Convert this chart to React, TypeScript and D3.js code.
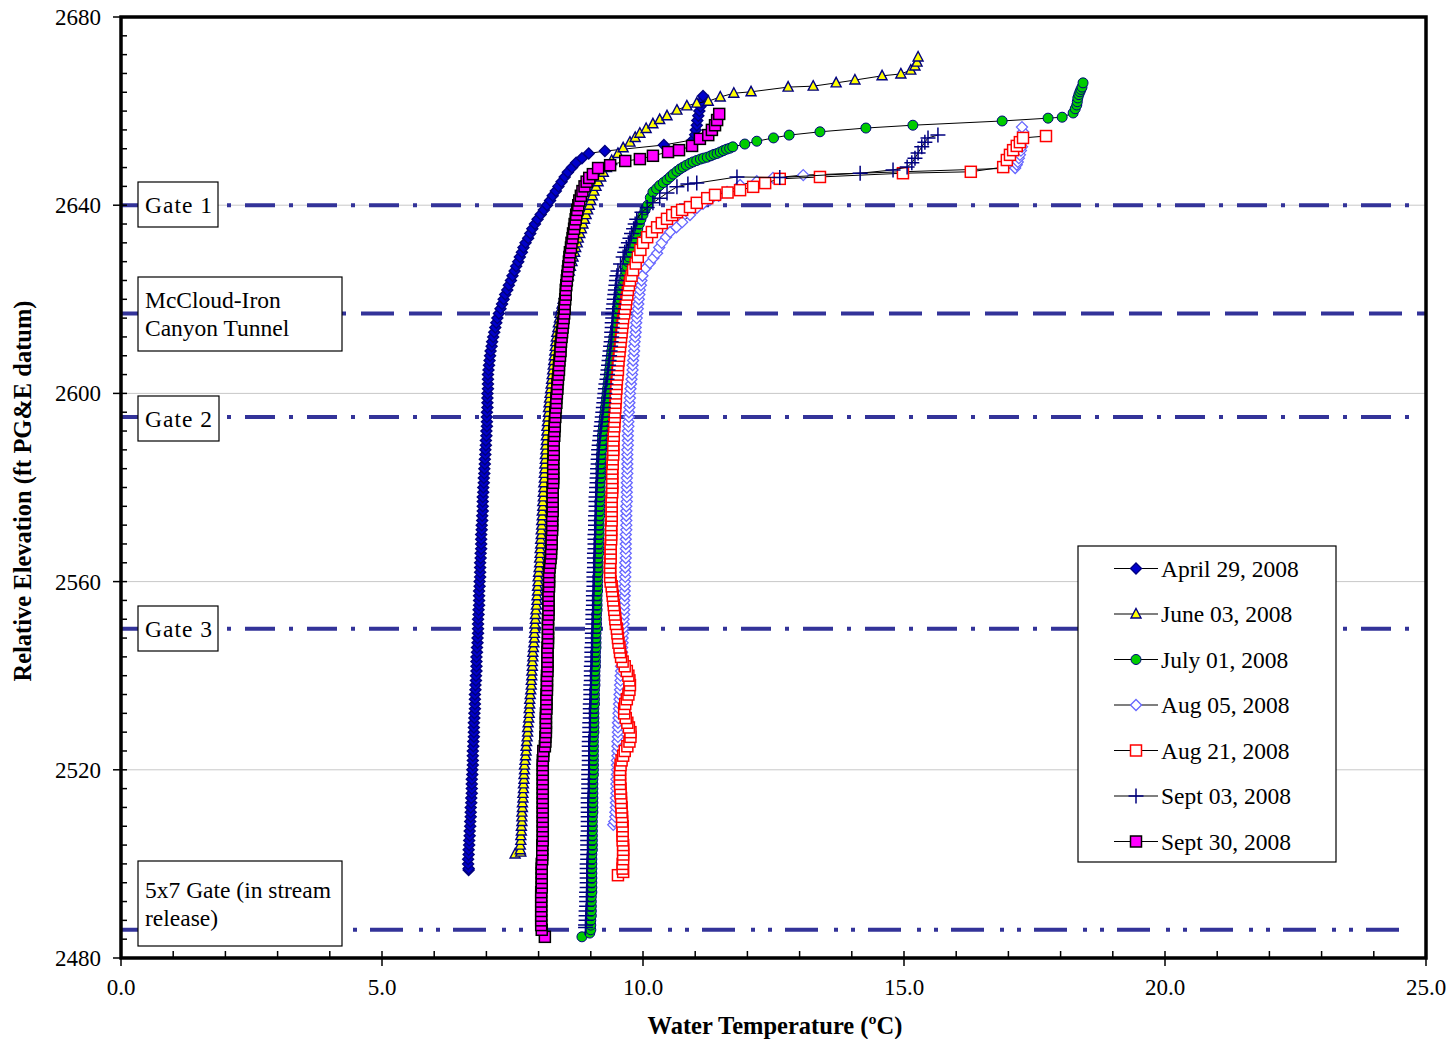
import React from 'react';
import * as d3 from 'd3';

type Pt = [number, number]; // [water temperature degC, elevation ft]

// profiles, bottom to top
const april29: Pt[] = [
  [6.66,2498.7],[6.66,2499],[6.65,2500],[6.65,2501],[6.66,2502],[6.66,2503],[6.67,2504],[6.67,2505],[6.68,2506],[6.68,2507],
  [6.69,2508],[6.69,2509],[6.70,2510],[6.70,2511],[6.70,2512],[6.71,2513],[6.71,2514],[6.72,2515],[6.72,2516],[6.72,2517],
  [6.72,2518],[6.73,2519],[6.73,2520],[6.74,2521],[6.74,2522],[6.74,2523],[6.74,2524],[6.75,2525],[6.75,2526],[6.76,2527],
  [6.76,2528],[6.76,2529],[6.76,2530],[6.77,2531],[6.77,2532],[6.78,2533],[6.78,2534],[6.78,2535],[6.78,2536],[6.79,2537],
  [6.79,2538],[6.80,2539],[6.80,2540],[6.81,2541],[6.81,2542],[6.81,2543],[6.81,2544],[6.82,2545],[6.82,2546],[6.83,2547],
  [6.83,2548],[6.84,2549],[6.84,2550],[6.84,2551],[6.84,2552],[6.85,2553],[6.85,2554],[6.86,2555],[6.86,2556],[6.86,2557],
  [6.86,2558],[6.87,2559],[6.87,2560],[6.88,2561],[6.88,2562],[6.88,2563],[6.88,2564],[6.89,2565],[6.89,2566],[6.90,2567],
  [6.90,2568],[6.90,2569],[6.90,2570],[6.91,2571],[6.91,2572],[6.92,2573],[6.92,2574],[6.93,2575],[6.93,2576],[6.93,2577],
  [6.93,2578],[6.94,2579],[6.94,2580],[6.95,2581],[6.95,2582],[6.96,2583],[6.96,2584],[6.97,2585],[6.97,2586],[6.98,2587],
  [6.98,2588],[6.99,2589],[6.99,2590],[7.00,2591],[7.00,2592],[7.01,2593],[7.01,2594],[7.01,2595],[7.01,2596],[7.02,2597],
  [7.02,2598],[7.02,2599],[7.02,2600],[7.03,2601],[7.03,2602],[7.03,2603],[7.03,2604],[7.04,2605],[7.05,2606],[7.06,2607],
  [7.07,2608],[7.08,2609],[7.10,2610],[7.11,2611],[7.13,2612],[7.15,2613],[7.17,2614],[7.19,2615],[7.21,2616],[7.24,2617],
  [7.27,2618],[7.30,2619],[7.33,2620],[7.36,2621],[7.40,2622],[7.43,2623],[7.47,2624],[7.50,2625],[7.54,2626],[7.57,2627],
  [7.61,2628],[7.64,2629],[7.68,2630],[7.71,2631],[7.75,2632],[7.80,2633],[7.84,2634],[7.88,2635],[7.93,2636],[7.98,2637],
  [8.04,2638],[8.10,2639],[8.16,2640],[8.22,2641],[8.27,2642],[8.33,2643],[8.38,2644],[8.44,2645],[8.50,2646],[8.56,2647],
  [8.64,2648],[8.72,2649],[8.83,2650],[8.96,2651],[9.27,2651.5],[10.40,2652.8],[10.96,2653.9],[11.00,2655],[11.01,2656],
  [11.03,2657],[11.04,2658],[11.06,2659],[11.08,2660],[11.10,2661],[11.12,2662],[11.15,2663.2],
];

const june03: Pt[] = [
  [7.55,2502.1],[7.66,2502.5],[7.65,2503],[7.65,2504],[7.66,2505],[7.66,2506],[7.67,2507],[7.67,2508],[7.68,2509],[7.68,2510],
  [7.68,2511],[7.69,2512],[7.69,2513],[7.70,2514],[7.70,2515],[7.71,2516],[7.71,2517],[7.72,2518],[7.72,2519],[7.73,2520],
  [7.73,2521],[7.74,2522],[7.75,2523],[7.76,2524],[7.76,2525],[7.77,2526],[7.78,2527],[7.79,2528],[7.79,2529],[7.80,2530],
  [7.81,2531],[7.82,2532],[7.82,2533],[7.83,2534],[7.83,2535],[7.84,2536],[7.85,2537],[7.86,2538],[7.86,2539],[7.87,2540],
  [7.87,2541],[7.88,2542],[7.88,2543],[7.89,2544],[7.89,2545],[7.90,2546],[7.91,2547],[7.92,2548],[7.92,2549],[7.93,2550],
  [7.93,2551],[7.94,2552],[7.94,2553],[7.95,2554],[7.96,2555],[7.97,2556],[7.97,2557],[7.98,2558],[7.98,2559],[7.99,2560],
  [7.99,2561],[8.00,2562],[8.01,2563],[8.02,2564],[8.02,2565],[8.03,2566],[8.03,2567],[8.04,2568],[8.04,2569],[8.05,2570],
  [8.05,2571],[8.06,2572],[8.06,2573],[8.07,2574],[8.07,2575],[8.08,2576],[8.08,2577],[8.09,2578],[8.09,2579],[8.10,2580],
  [8.10,2581],[8.11,2582],[8.11,2583],[8.12,2584],[8.12,2585],[8.13,2586],[8.13,2587],[8.14,2588],[8.14,2589],[8.15,2590],
  [8.15,2591],[8.16,2592],[8.16,2593],[8.17,2594],[8.18,2595],[8.19,2596],[8.19,2597],[8.20,2598],[8.21,2599],[8.22,2600],
  [8.23,2601],[8.24,2602],[8.25,2603],[8.26,2604],[8.27,2605],[8.28,2606],[8.29,2607],[8.30,2608],[8.31,2609],[8.32,2610],
  [8.33,2611],[8.34,2612],[8.35,2613],[8.37,2614],[8.38,2615],[8.40,2616],[8.41,2617],[8.43,2618],[8.45,2619],[8.47,2620],
  [8.49,2621],[8.51,2622],[8.53,2623],[8.55,2624],[8.57,2625],[8.59,2626],[8.61,2627],[8.64,2628],[8.66,2629],[8.69,2630],
  [8.71,2631],[8.74,2632],[8.76,2633],[8.79,2634],[8.82,2635],[8.85,2636],[8.88,2637],[8.91,2638],[8.94,2639],[8.97,2640],
  [9.00,2641],[9.03,2642],[9.06,2643],[9.10,2644],[9.14,2645],[9.19,2646],[9.24,2647],[9.30,2648],[9.40,2649.5],[9.52,2651],
  [9.62,2652.2],[9.75,2653.4],[9.85,2654.4],[9.94,2655.3],[10.06,2656.3],[10.19,2657.3],[10.32,2658.2],[10.46,2659],
  [10.65,2660.2],[10.84,2661.1],[11.03,2661.7],[11.25,2662.1],[11.48,2663],[11.74,2663.8],[12.07,2664.1],[12.78,2665.1],
  [13.26,2665.3],[13.70,2666.0],[14.06,2666.6],[14.58,2667.5],[14.94,2667.9],[15.13,2668.7],[15.21,2669.6],[15.25,2670.4],
  [15.27,2671.5],
];

const july01: Pt[] = [
  [8.83,2484.5],[8.98,2485.3],[9.00,2486],[9.00,2487],[9.00,2488],[9.01,2489],[9.01,2490],[9.01,2491],[9.01,2492],[9.01,2493],
  [9.02,2494],[9.02,2495],[9.02,2496],[9.02,2497],[9.02,2498],[9.02,2499],[9.02,2500],[9.02,2501],[9.02,2502],[9.03,2503],
  [9.03,2504],[9.03,2505],[9.03,2506],[9.03,2507],[9.03,2508],[9.03,2509],[9.03,2510],[9.04,2511],[9.04,2512],[9.04,2513],
  [9.04,2514],[9.04,2515],[9.04,2516],[9.04,2517],[9.04,2518],[9.05,2519],[9.05,2520],[9.05,2521],[9.05,2522],[9.05,2523],
  [9.05,2524],[9.05,2525],[9.05,2526],[9.05,2527],[9.06,2528],[9.06,2529],[9.06,2530],[9.06,2531],[9.06,2532],[9.06,2533],
  [9.07,2534],[9.07,2535],[9.07,2536],[9.07,2537],[9.08,2538],[9.08,2539],[9.08,2540],[9.08,2541],[9.09,2542],[9.09,2543],
  [9.09,2544],[9.09,2545],[9.10,2546],[9.10,2547],[9.10,2548],[9.10,2549],[9.11,2550],[9.11,2551],[9.11,2552],[9.11,2553],
  [9.12,2554],[9.12,2555],[9.12,2556],[9.12,2557],[9.13,2558],[9.13,2559],[9.13,2560],[9.13,2561],[9.14,2562],[9.14,2563],
  [9.14,2564],[9.14,2565],[9.15,2566],[9.15,2567],[9.15,2568],[9.15,2569],[9.16,2570],[9.16,2571],[9.16,2572],[9.16,2573],
  [9.17,2574],[9.17,2575],[9.17,2576],[9.17,2577],[9.18,2578],[9.18,2579],[9.18,2580],[9.18,2581],[9.19,2582],[9.19,2583],
  [9.19,2584],[9.19,2585],[9.20,2586],[9.20,2587],[9.21,2588],[9.21,2589],[9.22,2590],[9.22,2591],[9.23,2592],[9.24,2593],
  [9.25,2594],[9.26,2595],[9.27,2596],[9.28,2597],[9.29,2598],[9.30,2599],[9.31,2600],[9.32,2601],[9.33,2602],[9.34,2603],
  [9.35,2604],[9.36,2605],[9.37,2606],[9.38,2607],[9.39,2608],[9.40,2609],[9.41,2610],[9.43,2611],[9.44,2612],[9.46,2613],
  [9.47,2614],[9.49,2615],[9.50,2616],[9.52,2617],[9.53,2618],[9.55,2619],[9.56,2620],[9.58,2621],[9.59,2622],[9.61,2623],
  [9.63,2624],[9.65,2625],[9.67,2626],[9.69,2627],[9.71,2628],[9.73,2629],[9.76,2630],[9.78,2631],[9.81,2632],[9.84,2633],
  [9.87,2634],[9.90,2635],[9.93,2636],[9.96,2637],[10.00,2638],[10.04,2639],[10.09,2640],[10.14,2641.6],[10.19,2642.8],
  [10.26,2643.5],[10.32,2644.2],[10.39,2644.8],[10.46,2645.4],[10.52,2646],[10.58,2646.6],[10.65,2647.2],[10.71,2647.7],
  [10.77,2648.1],[10.83,2648.5],[10.90,2648.9],[10.96,2649.2],[11.03,2649.5],[11.10,2649.8],[11.16,2650],[11.23,2650.2],
  [11.30,2650.5],[11.36,2650.8],[11.42,2651],[11.48,2651.3],[11.54,2651.6],[11.60,2651.9],[11.66,2652.1],[11.72,2652.4],
  [11.95,2653.0],[12.18,2653.6],[12.50,2654.3],[12.80,2654.9],[13.39,2655.6],[14.27,2656.4],[15.17,2657.0],[16.88,2657.9],
  [17.76,2658.5],[18.03,2658.7],[18.24,2659.6],[18.28,2660.5],[18.31,2661.3],[18.32,2662],[18.33,2662.8],[18.35,2663.5],
  [18.37,2664.1],[18.39,2664.6],[18.41,2665.1],[18.43,2666.0],
];

const aug05: Pt[] = [
  [9.43,2508.3],[9.45,2509],[9.47,2510],[9.47,2511],[9.48,2512],[9.48,2513],[9.48,2514],[9.49,2515],[9.49,2516],[9.49,2517],
  [9.49,2518],[9.50,2519],[9.50,2520],[9.50,2521],[9.50,2522],[9.51,2523],[9.51,2524],[9.51,2525],[9.51,2526],[9.52,2527],
  [9.52,2528],[9.52,2529],[9.52,2530],[9.53,2531],[9.53,2532],[9.54,2533],[9.54,2534],[9.55,2535],[9.55,2536],[9.56,2537],
  [9.56,2538],[9.57,2539],[9.57,2540],[9.58,2541],[9.58,2542],[9.59,2543],[9.59,2544],[9.60,2545],[9.60,2546],[9.61,2547],
  [9.61,2548],[9.62,2549],[9.62,2550],[9.63,2551],[9.63,2552],[9.64,2553],[9.64,2554],[9.64,2555],[9.64,2556],[9.65,2557],
  [9.65,2558],[9.65,2559],[9.65,2560],[9.66,2561],[9.66,2562],[9.66,2563],[9.66,2564],[9.67,2565],[9.67,2566],[9.67,2567],
  [9.67,2568],[9.67,2569],[9.67,2570],[9.68,2571],[9.68,2572],[9.68,2573],[9.68,2574],[9.68,2575],[9.68,2576],[9.69,2577],
  [9.69,2578],[9.69,2579],[9.69,2580],[9.69,2581],[9.69,2582],[9.70,2583],[9.70,2584],[9.70,2585],[9.70,2586],[9.70,2587],
  [9.70,2588],[9.71,2589],[9.71,2590],[9.71,2591],[9.71,2592],[9.72,2593],[9.72,2594],[9.73,2595],[9.73,2596],[9.74,2597],
  [9.74,2598],[9.75,2599],[9.75,2600],[9.76,2601],[9.77,2602],[9.78,2603],[9.79,2604],[9.80,2605],[9.80,2606],[9.81,2607],
  [9.82,2608],[9.83,2609],[9.83,2610],[9.84,2611],[9.85,2612],[9.86,2613],[9.86,2614],[9.87,2615],[9.88,2616],[9.89,2617],
  [9.90,2618],[9.91,2619],[9.92,2620],[9.93,2621],[9.94,2622],[9.96,2623],[9.97,2624],[9.99,2625],[10.05,2626.6],
  [10.13,2627.7],[10.20,2628.8],[10.27,2629.8],[10.31,2631],[10.36,2632],[10.44,2633.2],[10.52,2634.3],[10.64,2635.3],
  [10.75,2636.4],[10.90,2637.9],[11.03,2639.4],[11.15,2640.3],[11.28,2641.1],[11.45,2642],[11.61,2642.8],[11.86,2644.3],
  [12.18,2645.1],[12.49,2645.8],[13.07,2646.4],[17.13,2647.9],[17.16,2648.6],[17.18,2649.2],[17.20,2650],[17.22,2650.7],
  [17.24,2651.6],[17.26,2652.4],[17.27,2653.4],[17.28,2654.3],[17.28,2655.6],[17.26,2656.6],
];

const aug21: Pt[] = [
  [9.52,2497.6],[9.62,2498.3],[9.61,2499],[9.61,2500],[9.62,2501],[9.62,2502],[9.62,2503],[9.62,2504],[9.61,2505],[9.61,2506],
  [9.61,2507],[9.61,2508],[9.60,2509],[9.60,2510],[9.59,2511],[9.59,2512],[9.58,2513],[9.58,2514],[9.57,2515],[9.57,2516],
  [9.56,2517],[9.56,2518],[9.56,2519],[9.56,2520],[9.57,2521],[9.59,2522],[9.62,2523],[9.65,2524],[9.70,2525],[9.74,2526],
  [9.76,2527],[9.76,2528],[9.73,2529],[9.70,2530],[9.67,2531],[9.64,2532],[9.64,2533],[9.66,2534],[9.69,2535],[9.72,2536],
  [9.74,2537],[9.75,2538],[9.74,2539],[9.72,2540],[9.69,2541],[9.65,2542],[9.61,2543],[9.58,2544],[9.56,2545],[9.55,2546],
  [9.53,2547],[9.52,2548],[9.51,2549],[9.50,2550],[9.48,2551],[9.47,2552],[9.46,2553],[9.45,2554],[9.44,2555],[9.43,2556],
  [9.42,2557],[9.41,2558],[9.40,2559],[9.38,2560],[9.37,2561],[9.37,2562],[9.37,2563],[9.37,2564],[9.38,2565],[9.38,2566],
  [9.38,2567],[9.38,2568],[9.39,2569],[9.39,2570],[9.39,2571],[9.39,2572],[9.40,2573],[9.40,2574],[9.40,2575],[9.40,2576],
  [9.40,2577],[9.40,2578],[9.41,2579],[9.41,2580],[9.41,2581],[9.41,2582],[9.41,2583],[9.41,2584],[9.42,2585],[9.42,2586],
  [9.43,2587],[9.43,2588],[9.43,2589],[9.43,2590],[9.44,2591],[9.44,2592],[9.45,2593],[9.45,2594],[9.46,2595],[9.46,2596],
  [9.47,2597],[9.47,2598],[9.48,2599],[9.48,2600],[9.49,2601],[9.49,2602],[9.50,2603],[9.51,2604],[9.52,2605],[9.52,2606],
  [9.53,2607],[9.54,2608],[9.55,2609],[9.56,2610],[9.57,2611],[9.58,2612],[9.59,2613],[9.60,2614],[9.61,2615],[9.62,2616],
  [9.64,2617],[9.65,2618],[9.67,2619],[9.68,2620],[9.70,2621],[9.71,2622],[9.73,2623],[9.75,2624],[9.78,2625],[9.81,2626.2],
  [9.86,2627.6],[9.90,2629],[9.95,2630.5],[10.00,2632],[10.08,2633.2],[10.17,2634.3],[10.27,2635.3],[10.36,2636.2],
  [10.46,2637.1],[10.56,2637.9],[10.65,2638.5],[10.75,2639],[10.90,2639.6],[11.03,2640.5],[11.23,2641.5],[11.38,2642.2],
  [11.62,2642.7],[11.86,2643.2],[12.11,2643.9],[12.34,2644.7],[12.62,2645.6],[13.39,2646],[14.98,2646.8],[16.28,2647.1],
  [16.90,2648.1],[16.97,2649.6],[17.03,2650.7],[17.09,2651.7],[17.16,2652.6],[17.22,2653.4],[17.28,2654.3],[17.72,2654.7],
];

const sept03: Pt[] = [
  [8.90,2486.5],[8.90,2487],[8.91,2488],[8.91,2489],[8.91,2490],[8.92,2491],[8.92,2492],[8.92,2493],[8.92,2494],[8.93,2495],
  [8.93,2496],[8.93,2497],[8.93,2498],[8.93,2499],[8.93,2500],[8.94,2501],[8.94,2502],[8.94,2503],[8.94,2504],[8.94,2505],
  [8.94,2506],[8.95,2507],[8.95,2508],[8.95,2509],[8.95,2510],[8.95,2511],[8.95,2512],[8.95,2513],[8.95,2514],[8.96,2515],
  [8.96,2516],[8.96,2517],[8.96,2518],[8.96,2519],[8.96,2520],[8.97,2521],[8.97,2522],[8.97,2523],[8.97,2524],[8.97,2525],
  [8.97,2526],[8.98,2527],[8.98,2528],[8.98,2529],[8.98,2530],[8.99,2531],[8.99,2532],[8.99,2533],[8.99,2534],[9.00,2535],
  [9.00,2536],[9.00,2537],[9.00,2538],[9.01,2539],[9.01,2540],[9.01,2541],[9.01,2542],[9.02,2543],[9.02,2544],[9.02,2545],
  [9.02,2546],[9.03,2547],[9.03,2548],[9.03,2549],[9.03,2550],[9.04,2551],[9.04,2552],[9.04,2553],[9.04,2554],[9.05,2555],
  [9.05,2556],[9.05,2557],[9.05,2558],[9.06,2559],[9.06,2560],[9.06,2561],[9.06,2562],[9.07,2563],[9.07,2564],[9.07,2565],
  [9.07,2566],[9.08,2567],[9.08,2568],[9.08,2569],[9.08,2570],[9.09,2571],[9.09,2572],[9.09,2573],[9.09,2574],[9.10,2575],
  [9.10,2576],[9.10,2577],[9.10,2578],[9.11,2579],[9.11,2580],[9.12,2581],[9.12,2582],[9.13,2583],[9.13,2584],[9.14,2585],
  [9.14,2586],[9.15,2587],[9.15,2588],[9.16,2589],[9.17,2590],[9.18,2591],[9.19,2592],[9.20,2593],[9.21,2594],[9.22,2595],
  [9.23,2596],[9.24,2597],[9.25,2598],[9.26,2599],[9.27,2600],[9.28,2601],[9.29,2602],[9.31,2603],[9.32,2604],[9.33,2605],
  [9.34,2606],[9.35,2607],[9.36,2608],[9.37,2609],[9.38,2610],[9.39,2611],[9.40,2612],[9.40,2613],[9.41,2614],[9.41,2615],
  [9.42,2616],[9.42,2617],[9.43,2618],[9.44,2619],[9.45,2620],[9.46,2621],[9.47,2622],[9.48,2623],[9.49,2624],[9.50,2625],
  [9.52,2626],[9.57,2627.5],[9.62,2629],[9.65,2630],[9.68,2631],[9.72,2632],[9.75,2633],[9.78,2634],[9.82,2635],[9.85,2636],
  [9.88,2637],[9.98,2638.5],[10.08,2639.5],[10.19,2640.5],[10.32,2641.5],[10.46,2642.6],[10.65,2643.9],[10.86,2644.5],
  [11.03,2644.7],[11.80,2646],[12.62,2645.9],[14.16,2646.8],[14.79,2647.5],[15.06,2648.1],[15.15,2649],[15.21,2650],
  [15.27,2651.1],[15.34,2652.4],[15.40,2653.4],[15.46,2654.3],[15.65,2654.9],
];

const sept30: Pt[] = [
  [8.12,2484.5],[8.06,2486],[8.05,2487],[8.05,2488],[8.05,2489],[8.05,2490],[8.05,2491],[8.05,2492],[8.05,2493],[8.05,2494],
  [8.06,2495],[8.06,2496],[8.06,2497],[8.06,2498],[8.06,2499],[8.06,2500],[8.07,2501],[8.07,2502],[8.07,2503],[8.07,2504],
  [8.08,2505],[8.08,2506],[8.08,2507],[8.08,2508],[8.08,2509],[8.08,2510],[8.08,2511],[8.08,2512],[8.08,2513],[8.08,2514],
  [8.08,2515],[8.08,2516],[8.08,2517],[8.08,2518],[8.08,2519],[8.08,2520],[8.08,2521],[8.08,2522],[8.09,2523],[8.09,2524],
  [8.12,2525],[8.13,2526],[8.13,2527],[8.14,2528],[8.14,2529],[8.14,2530],[8.14,2531],[8.14,2532],[8.15,2533],[8.15,2534],
  [8.15,2535],[8.15,2536],[8.16,2537],[8.16,2538],[8.16,2539],[8.16,2540],[8.17,2541],[8.17,2542],[8.17,2543],[8.17,2544],
  [8.17,2545],[8.17,2546],[8.18,2547],[8.18,2548],[8.18,2549],[8.18,2550],[8.18,2551],[8.18,2552],[8.19,2553],[8.19,2554],
  [8.19,2555],[8.19,2556],[8.19,2557],[8.19,2558],[8.20,2559],[8.20,2560],[8.20,2561],[8.20,2562],[8.21,2563],[8.22,2564],
  [8.23,2565],[8.24,2566],[8.24,2567],[8.25,2568],[8.25,2569],[8.25,2570],[8.26,2571],[8.26,2572],[8.26,2573],[8.26,2574],
  [8.27,2575],[8.27,2576],[8.27,2577],[8.27,2578],[8.27,2579],[8.27,2580],[8.28,2581],[8.28,2582],[8.28,2583],[8.28,2584],
  [8.28,2585],[8.28,2586],[8.29,2587],[8.29,2588],[8.29,2589],[8.29,2590],[8.30,2591],[8.30,2592],[8.31,2593],[8.31,2594],
  [8.32,2595],[8.32,2596],[8.33,2597],[8.34,2598],[8.34,2599],[8.35,2600],[8.36,2601],[8.36,2602],[8.37,2603],[8.38,2604],
  [8.39,2605],[8.39,2606],[8.40,2607],[8.41,2608],[8.42,2609],[8.42,2610],[8.43,2611],[8.44,2612],[8.45,2613],[8.46,2614],
  [8.47,2615],[8.48,2616],[8.49,2617],[8.50,2618],[8.50,2619],[8.51,2620],[8.52,2621],[8.52,2622],[8.53,2623],[8.54,2624],
  [8.55,2625],[8.56,2626],[8.57,2627],[8.58,2628],[8.59,2629],[8.60,2630],[8.62,2631],[8.63,2632],[8.65,2633],[8.66,2634],
  [8.68,2635],[8.69,2636],[8.71,2637],[8.72,2638],[8.74,2639],[8.76,2640],[8.78,2641],[8.81,2642],[8.84,2643],[8.88,2644],
  [8.92,2645],[8.97,2645.8],[9.04,2646.6],[9.14,2647.9],[9.37,2648.5],[9.66,2649.4],[9.94,2649.8],[10.19,2650.5],
  [10.48,2651.3],[10.69,2651.7],[10.94,2652.6],[11.09,2654.1],[11.25,2654.9],[11.32,2656],[11.38,2657],[11.42,2658.1],
  [11.46,2659.4],
];

const seriesNames = ['April 29, 2008', 'June 03, 2008', 'July 01, 2008', 'Aug 05, 2008', 'Aug 21, 2008', 'Sept 03, 2008', 'Sept 30, 2008'];
const seriesData = [april29, june03, july01, aug05, aug21, sept03, sept30];

const gateElevations = [2640, 2617, 2595, 2550, 2486];
const gateLabels = [['Gate 1'], ['McCloud-Iron', 'Canyon Tunnel'], ['Gate 2'], ['Gate 3'], ['5x7 Gate (in stream', 'release)']];

const xTicks = [0, 5, 10, 15, 20, 25];
const yTicks = [2480, 2520, 2560, 2600, 2640, 2680];

// ---- styling ----
const W = 1454, H = 1039;
const left = 121, right = 1426, top = 17, bottom = 958;
const FONT = '"Liberation Serif", "Times New Roman", serif';
const GATE_COLOR = '#333399';

type Shape = 'diamond' | 'triangle' | 'circle' | 'square' | 'plus';
const markerStyles: { shape: Shape; size: number; fill: string; stroke: string; sw: number }[] = [
  { shape: 'diamond', size: 5.5, fill: '#0000CC', stroke: '#000080', sw: 1.4 },
  { shape: 'triangle', size: 5, fill: '#FFFF00', stroke: '#000080', sw: 1.4 },
  { shape: 'circle', size: 5, fill: '#00CC00', stroke: '#000080', sw: 1 },
  { shape: 'diamond', size: 5.5, fill: '#FFFFFF', stroke: '#6666FF', sw: 1.3 },
  { shape: 'square', size: 5.5, fill: '#FFFFFF', stroke: '#FF0000', sw: 1.5 },
  { shape: 'plus', size: 7.5, fill: 'none', stroke: '#000080', sw: 1.5 },
  { shape: 'square', size: 5.5, fill: '#FF00FF', stroke: '#000000', sw: 1.5 },
];

// gate line dash patterns and label boxes
const gateDash = ['30 14 4 14', '33 15', '30 14 4 14', '30 14 4 14', '33 16 4 13 4 13'];
const gateLineEnd = [1410, 1426, 1410, 1410, 1410];
const gateBoxes = [
  { x: 138, y: 182, w: 80, h: 45 },
  { x: 138, y: 277, w: 204, h: 74 },
  { x: 138, y: 396, w: 81, h: 45 },
  { x: 138, y: 606, w: 80, h: 45 },
  { x: 138, y: 861, w: 204, h: 85 },
];

function Marker({ i, cx, cy }: { i: number; cx: number; cy: number }) {
  const m = markerStyles[i];
  const r = m.size;
  if (m.shape === 'circle') return <circle cx={cx} cy={cy} r={r} fill={m.fill} stroke={m.stroke} strokeWidth={m.sw} />;
  if (m.shape === 'square')
    return <rect x={cx - r} y={cy - r} width={2 * r} height={2 * r} fill={m.fill} stroke={m.stroke} strokeWidth={m.sw} />;
  if (m.shape === 'plus')
    return <path d={`M${cx - r},${cy}H${cx + r}M${cx},${cy - r}V${cy + r}`} stroke={m.stroke} strokeWidth={m.sw} fill="none" />;
  if (m.shape === 'triangle')
    return <path d={`M${cx},${cy - r - 0.5}L${cx + r},${cy + r - 1}L${cx - r},${cy + r - 1}Z`} fill={m.fill} stroke={m.stroke} strokeWidth={m.sw} />;
  return <path d={`M${cx},${cy - r}L${cx + r},${cy}L${cx},${cy + r}L${cx - r},${cy}Z`} fill={m.fill} stroke={m.stroke} strokeWidth={m.sw} />;
}

export default function App() {
  const x = d3.scaleLinear().domain([0, 25]).range([left, right]);
  const y = d3.scaleLinear().domain([2480, 2680]).range([bottom, top]);
  const line = d3.line<Pt>().x(d => x(d[0])).y(d => y(d[1]));
  const xMinor = d3.range(0, 25.01, 1);
  const yMinor = d3.range(2480, 2680.01, 4);

  const legendX = 1078, legendY = 546, legendW = 258, legendH = 316, rowH = 45.5;

  return (
    <svg width={W} height={H} style={{ position: 'fixed', left: 0, top: 0, background: '#fff' }} fontFamily={FONT}>
      <rect x={0} y={0} width={W} height={H} fill="#fff" />

      {/* gridlines */}
      {yTicks.filter(t => t > 2480 && t < 2680).map(t => (
        <line key={t} x1={left} x2={right} y1={y(t)} y2={y(t)} stroke="#C8C8C8" strokeWidth={1} />
      ))}

      {/* gate lines */}
      {gateElevations.map((g, i) => (
        <line key={g} x1={left} x2={gateLineEnd[i]} y1={y(g)} y2={y(g)} stroke={GATE_COLOR} strokeWidth={4}
          strokeDasharray={gateDash[i]} />
      ))}

      {/* series */}
      {seriesData.map((s, i) => (
        <g key={i}>
          <path d={line(s) || ''} fill="none" stroke="#000" strokeWidth={1} />
          {s.map((d, j) => <Marker key={j} i={i} cx={x(d[0])} cy={y(d[1])} />)}
        </g>
      ))}

      {/* gate label boxes */}
      {gateBoxes.map((b, i) => (
        <g key={i}>
          <rect x={b.x} y={b.y} width={b.w} height={b.h} fill="#fff" stroke="#000" strokeWidth={1.2} />
          {gateLabels[i].map((t, k) => (
            <text key={k} x={b.x + 7} y={gateLabels[i].length === 1 ? b.y + b.h / 2 + 8 : b.y + (i === 4 ? 37 : 31) + k * 28}
              fontSize={23.5} letterSpacing={i === 1 || i === 4 ? 0 : 1} fill="#000">{t}</text>
          ))}
        </g>
      ))}

      {/* legend */}
      <rect x={legendX} y={legendY} width={legendW} height={legendH} fill="#fff" stroke="#000" strokeWidth={1.2} />
      {seriesNames.map((n, i) => {
        const cy = legendY + 22.5 + i * rowH;
        return (
          <g key={n}>
            <line x1={legendX + 36} x2={legendX + 80} y1={cy} y2={cy} stroke="#000" strokeWidth={1.2} />
            <Marker i={i} cx={legendX + 58} cy={cy} />
            <text x={legendX + 83} y={cy + 8} fontSize={23.5} fill="#000">{n}</text>
          </g>
        );
      })}

      {/* frame */}
      <rect x={left} y={top} width={right - left} height={bottom - top} fill="none" stroke="#000" strokeWidth={3.5} />

      {/* y ticks */}
      {yMinor.map(t => <line key={t} x1={left} x2={left + 6} y1={y(t)} y2={y(t)} stroke="#000" strokeWidth={1.5} />)}
      {yTicks.map(t => (
        <g key={t}>
          <line x1={left - 8} x2={left} y1={y(t)} y2={y(t)} stroke="#000" strokeWidth={1.5} />
          <text x={101} y={y(t) + 8} textAnchor="end" fontSize={23}>{t}</text>
        </g>
      ))}

      {/* x ticks */}
      {xMinor.map(t => <line key={t} x1={x(t)} x2={x(t)} y1={bottom} y2={bottom - 7} stroke="#000" strokeWidth={1.5} />)}
      {xTicks.map(t => (
        <g key={t}>
          <line x1={x(t)} x2={x(t)} y1={bottom} y2={bottom + 8} stroke="#000" strokeWidth={1.5} />
          <text x={x(t)} y={995} textAnchor="middle" fontSize={23}>{t.toFixed(1)}</text>
        </g>
      ))}

      {/* axis titles */}
      <text x={775} y={1034} textAnchor="middle" fontSize={24.5} fontWeight="bold">Water Temperature (ºC)</text>
      <text transform="translate(31,491) rotate(-90)" textAnchor="middle" fontSize={24.5} fontWeight="bold">
        Relative Elevation (ft PG&amp;E datum)
      </text>
    </svg>
  );
}
